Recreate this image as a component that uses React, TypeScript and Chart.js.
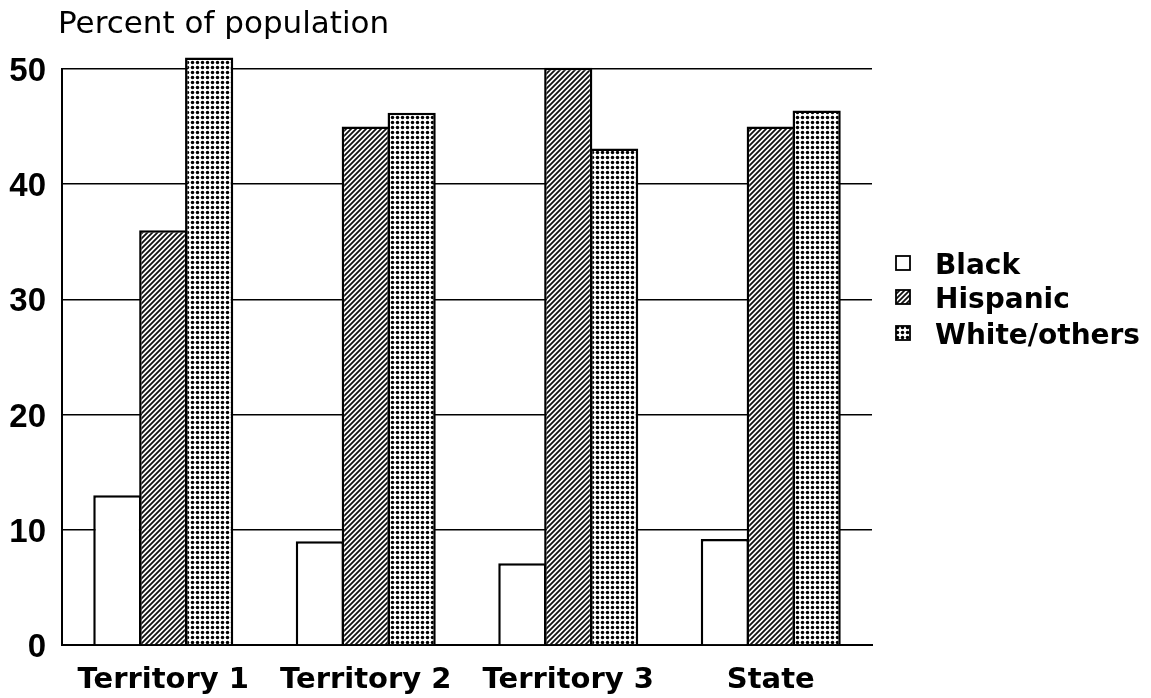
import { useEffect, useRef } from "react";
import { Chart, registerables } from "chart.js";
Chart.register(...registerables);

const categories = ["Territory 1", "Territory 2", "Territory 3", "State"];
const seriesNames = ["Black", "Hispanic", "White/others"];
const blackValues = [13, 9, 7.1, 9.2];
const hispanicValues = [36, 45, 50.1, 45];
const whiteValues = [51, 46.2, 43.1, 46.4];
const yTicks = [0, 10, 20, 30, 40, 50];
const titleText = "Percent of population";

function makeHatch(ctx: CanvasRenderingContext2D) {
  const c = document.createElement("canvas");
  c.width = 5;
  c.height = 5;
  const g = c.getContext("2d")!;
  g.fillStyle = "#fff";
  g.fillRect(0, 0, 5, 5);
  g.strokeStyle = "#111";
  g.lineWidth = 1.8;
  g.beginPath();
  g.moveTo(-1, 6);
  g.lineTo(6, -1);
  g.moveTo(-3.5, 3.5);
  g.lineTo(3.5, -3.5);
  g.moveTo(1.5, 8.5);
  g.lineTo(8.5, 1.5);
  g.stroke();
  return ctx.createPattern(c, "repeat")!;
}

function makeDots(ctx: CanvasRenderingContext2D) {
  const c = document.createElement("canvas");
  c.width = 5;
  c.height = 5;
  const g = c.getContext("2d")!;
  g.fillStyle = "#fff";
  g.fillRect(0, 0, 5, 5);
  g.fillStyle = "#000";
  g.beginPath();
  g.arc(2.5, 2.5, 1.75, 0, Math.PI * 2);
  g.fill();
  return ctx.createPattern(c, "repeat")!;
}

export default function App() {
  const ref = useRef<HTMLCanvasElement | null>(null);
  useEffect(() => {
    document.body.style.margin = "0";
    const canvas = ref.current!;
    const ctx = canvas.getContext("2d")!;
    const hatch = makeHatch(ctx);
    const dots = makeDots(ctx);
    const fills: (string | CanvasPattern)[] = ["#fff", hatch, dots];

    const overlay = {
      id: "overlay",
      afterDraw(chart: any) {
        const c: CanvasRenderingContext2D = chart.ctx;
        c.save();
        c.fillStyle = "#000";
        c.textAlign = "left";
        c.textBaseline = "alphabetic";
        c.font = "31px 'DejaVu Sans'";
        c.fillText(titleText, 58, 33);
        const rows = [263, 297, 333];
        seriesNames.forEach((name, i) => {
          const cy = rows[i];
          c.fillStyle = fills[i] as any;
          c.fillRect(896, cy - 7, 14, 14);
          c.strokeStyle = "#000";
          c.lineWidth = 1.8;
          c.strokeRect(896, cy - 7, 14, 14);
          c.fillStyle = "#000";
          c.font = "bold 28px 'DejaVu Sans'";
          c.fillText(name, 935, cy + 11);
        });
        c.restore();
      },
    };

    const mk = (label: string, data: number[], i: number) => ({
      label,
      data,
      backgroundColor: fills[i],
      borderColor: "#000",
      borderWidth: 2.5,
      borderSkipped: "bottom" as const,
      clip: false as const,
      categoryPercentage: 0.68,
      barPercentage: 1.05,
    });

    const chart = new Chart(canvas, {
      type: "bar",
      data: {
        labels: categories,
        datasets: [
          mk(seriesNames[0], blackValues, 0),
          mk(seriesNames[1], hispanicValues, 1),
          mk(seriesNames[2], whiteValues, 2),
        ],
      },
      options: {
        animation: false,
        responsive: false,
        events: [],
        layout: { padding: { left: 0, top: 69, right: 279, bottom: 0 } },
        plugins: { legend: { display: false }, tooltip: { enabled: false }, title: { display: false } },
        scales: {
          x: {
            grid: { display: false },
            border: { display: true, color: "#000", width: 2 },
            ticks: {
              color: "#000",
              font: { family: "'DejaVu Sans'", size: 29, weight: "bold" },
              padding: 10,
              maxRotation: 0,
            },
            afterFit: (s: any) => {
              s.height = 53;
            },
          },
          y: {
            min: 0,
            max: 50,
            afterBuildTicks: (s: any) => {
              s.ticks = yTicks.map((v) => ({ value: v }));
            },
            grid: { color: "#000", lineWidth: 1.5, drawTicks: false },
            border: { display: true, color: "#000", width: 2 },
            ticks: {
              color: "#000",
              font: { family: "'Liberation Sans'", size: 33, weight: "bold" },
              padding: 16,
              labelOffset: 3,
            },
            afterFit: (s: any) => {
              s.width = 62;
            },
          },
        },
      },
      plugins: [overlay],
    });
    return () => chart.destroy();
  }, []);
  return <canvas ref={ref} width={1151} height={698} style={{ display: "block" }} />;
}
